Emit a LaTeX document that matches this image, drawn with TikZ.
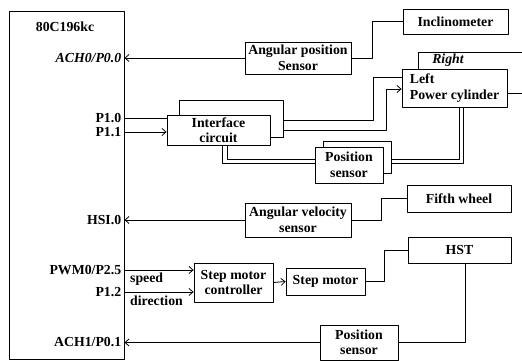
\documentclass[tikz,border=0pt]{standalone}
\usepackage{fontspec}
\setmainfont{Liberation Serif}
\usetikzlibrary{positioning}
\usetikzlibrary{arrows.meta}

\begin{document}
\begin{tikzpicture}[x=1pt, y=-1pt, line join=round,
    every node/.style={font=\fontsize{13.8}{15.5}\selectfont\bfseries},
    blk/.style={draw, fill=white, line width=0.8pt, align=center, inner sep=1pt},
    port/.style={inner sep=0pt},
    wire/.style={line width=0.8pt},
    arr/.style={wire, -{Straight Barb[length=4pt,width=7pt]}}]
  \useasboundingbox (0,0) rectangle (522,361);
  % controller board
  \node[draw, line width=0.8pt, minimum width=115, minimum height=348] (mcu) at (66.5,185) {};
  \node (mcuname) at (65,27) {80C196kc};
  % sensors, boxes in front of their back outlines
  \node[blk, minimum width=106, minimum height=32] (angpos) at (298,58) {Angular position\\Sensor};
  \node[blk, minimum width=105, minimum height=25] (inclin) at (455.5,21.5) {Inclinometer};
  \node[blk, minimum width=104, minimum height=37] (iface2) at (231,118.5) {};
  \node[blk, minimum width=103, minimum height=30] (iface) at (218.5,130) {Interface\\circuit};
  \node[blk, minimum width=105, minimum height=38, align=left] (cyl) at (454.5,88) {Left\\Power cylinder};
  \node[font=\fontsize{13.8}{15.5}\selectfont\bfseries\itshape] (rlab) at (448,60) {Right};
  \node[blk, minimum width=68, minimum height=32] (pos1b) at (357,157) {};
  \node[blk, minimum width=68, minimum height=36] (pos1) at (349,165) {Position\\sensor};
  \node[blk, minimum width=106, minimum height=34] (angvel) at (298,220) {Angular velocity\\sensor};
  \node[blk, minimum width=104, minimum height=27] (fifth) at (459,198.5) {Fifth wheel};
  \node[blk, minimum width=103, minimum height=26] (hst) at (459.5,250) {HST};
  \node[blk, minimum width=79, minimum height=39] (ctrl) at (233.5,282.5) {Step motor\\controller};
  \node[blk, minimum width=79, minimum height=27] (stepm) at (325.5,281.5) {Step motor};
  \node[blk, minimum width=78, minimum height=35] (pos2) at (359,342.5) {Position\\sensor};
  % free ends on the right edge
  \coordinate (rgt) at (522,52);
  \coordinate (out) at (522,93);
  % ports of the board
  \coordinate (p00) at (angpos.west -| mcu.east);
  \coordinate (p10) at ([yshift=12pt]iface.west -| mcu.east);
  \coordinate (p11) at ([yshift=-2pt]iface.west -| mcu.east);
  \coordinate (hsi) at (angvel.west -| mcu.east);
  \coordinate (pwm) at ([yshift=12.5pt]ctrl.west -| mcu.east);
  \coordinate (p12) at ([yshift=-9.5pt]ctrl.west -| mcu.east);
  \coordinate (ach1) at (pos2.west -| mcu.east);
  \node[port, left=3pt of p00, font=\fontsize{13.8}{15.5}\selectfont\bfseries\itshape] (lp00) {ACH0/P0.0};
  \foreach \c/\t in {p10/P1.0, p11/P1.1, hsi/HSI.0, pwm/{PWM0/P2.5}, p12/P1.2, ach1/{ACH1/P0.1}}
    \node[port, left=3pt of \c] (l\c) {\t};
  \node[port, anchor=west] (spd) at (130,279) {speed};
  \node[port, anchor=west] (dir) at (130,301) {direction};
  % signals into the board
  \draw[arr] (angpos.west) -- (p00);
  \draw[arr] (angvel.west) -- (hsi);
  \draw[arr] (pos2.west) -- (ach1);
  % signals out of the board
  \draw[wire] (p10) -- ([yshift=12pt]iface.west);
  \draw[arr] (p11) -- ([yshift=-2pt]iface.west);
  \draw[arr] (pwm) -- ([yshift=12.5pt]ctrl.west);
  \draw[arr] (p12) -- ([yshift=-9.5pt]ctrl.west);
  \draw[arr] (ctrl.east) -- (stepm.west);
  % sensor links
  \draw[wire] (angpos.east) -- ++(21,0) |- (inclin.west);
  \draw[wire] (angvel.east) -- ++(30,0) |- (fifth.west);
  \draw[wire] (stepm.east) -- ++(19,0) |- (hst.west);
  \draw[wire] ([xshift=5.5pt]hst.south) |- (pos2.east);
  % interface to cylinders
  \draw[wire] ([yshift=-1.5pt]iface2.east) -- ++(90,0) |- ([yshift=11pt]cyl.west);
  \draw[arr] ([yshift=-12pt]iface2.east) -- ++(103,0) |- ([yshift=-1pt]cyl.west);
  \draw[wire] ([xshift=17pt]cyl.north west) |- (rgt);
  \draw[wire] ([yshift=-5pt]cyl.east) -- (out);
  % double lines of the position sensor
  \draw[wire] ([xshift=3.5pt]iface.south) |- ([yshift=2pt]pos1.west);
  \draw[wire] ([xshift=8.5pt]iface.south) |- ([yshift=6pt]pos1.west);
  \draw[wire] ([xshift=4.5pt]cyl.south) |- ([yshift=-2pt]pos1b.east);
  \draw[wire] ([xshift=8.5pt]cyl.south) |- ([yshift=-6pt]pos1b.east);
\end{tikzpicture}
\end{document}
